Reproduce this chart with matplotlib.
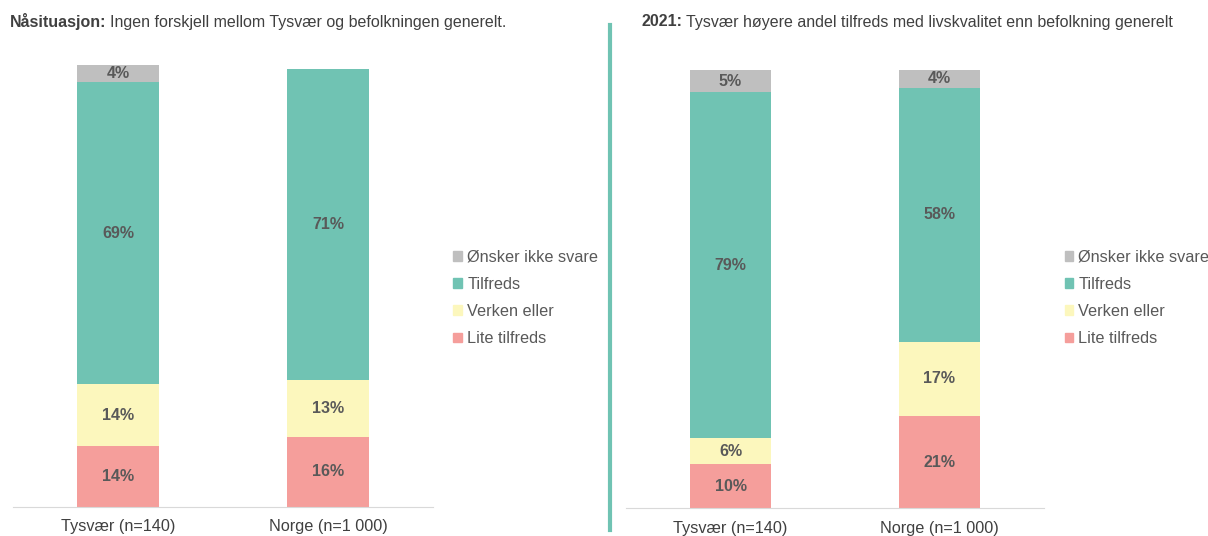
import matplotlib.pyplot as plt
from matplotlib.patches import Patch
import numpy as np

plt.rcParams['font.family'] = ['Liberation Sans', 'DejaVu Sans']

groups = ['Tysvær (n=140)', 'Norge (n=1 000)']
categories = ['Lite tilfreds', 'Verken eller', 'Tilfreds', 'Ønsker ikke svare']
colors = ['#F59E9B', '#FCF7BD', '#70C3B3', '#BFBFBF']

# values per category, [Tysvær, Norge]
now_vals = {
    'Lite tilfreds': [14, 16],
    'Verken eller': [14, 13],
    'Tilfreds': [69, 71],
    'Ønsker ikke svare': [4, 0],
}
y2021_vals = {
    'Lite tilfreds': [10, 21],
    'Verken eller': [6, 17],
    'Tilfreds': [79, 58],
    'Ønsker ikke svare': [5, 4],
}

W, H = 1208, 536
fig = plt.figure(figsize=(W / 100, H / 100), dpi=100)

def px_axes(x0, x1, ytop, ybot):
    return fig.add_axes([x0 / W, (H - ybot) / H, (x1 - x0) / W, (ybot - ytop) / H])

def draw_panel(ax, vals):
    x = np.arange(len(groups))
    bottom = np.zeros(len(groups))
    for cat, col in zip(categories, colors):
        v = np.array(vals[cat], dtype=float)
        ax.bar(x, v, 0.39, bottom=bottom, color=col, clip_on=False)
        for xi, vi, bi in zip(x, v, bottom):
            if vi > 0:
                ax.text(xi, bi + vi / 2, f'{vi:.0f}%', ha='center', va='center',
                        fontsize=11.5, fontweight='bold', color='#595959')
        bottom += v
    ax.set_xlim(-0.5, 1.5)
    ax.set_ylim(0, 100.5)
    ax.set_xticks(x)
    ax.set_xticklabels(groups, fontsize=11.7, color='#404040')
    ax.tick_params(axis='x', length=0, pad=9)
    ax.set_yticks([])
    for s in ['top', 'right', 'left']:
        ax.spines[s].set_visible(False)
    ax.spines['bottom'].set_color('#D9D9D9')

ax1 = px_axes(13, 433, 67, 507)
draw_panel(ax1, now_vals)
ax2 = px_axes(626, 1044, 68, 508)
draw_panel(ax2, y2021_vals)

# titles: bold lead-in followed by normal text
def title(x, y, bold, rest):
    t = fig.text(x / W, 1 - y / H, bold, fontsize=11.5, fontweight='bold',
                 color='#404040', va='center')
    fig.canvas.draw()
    bb = t.get_window_extent()
    fig.text((bb.x1 + 4) / W, 1 - y / H, rest, fontsize=11.5, color='#404040', va='center')

title(10, 22, 'Nåsituasjon:', 'Ingen forskjell mellom Tysvær og befolkningen generelt.')
title(641, 22, '2021:', 'Tysvær høyere andel tilfreds med livskvalitet enn befolkning generelt')

# divider line
fig.add_artist(plt.Line2D([610 / W, 610 / W], [1 - 25 / H, 1 - 530 / H],
                          color='#70C3B3', lw=3))

handles = [Patch(color=c) for c in colors[::-1]]
labels = categories[::-1]
for lx in [447, 1058]:
    fig.legend(handles, labels, loc='center left', bbox_to_anchor=(lx / W, 1 - 298 / H),
               frameon=False, fontsize=11.7, labelcolor='#595959', handlelength=0.55,
               handleheight=0.55, handletextpad=0.3, labelspacing=0.75, borderaxespad=0)

fig.savefig('out.png', dpi=100)
